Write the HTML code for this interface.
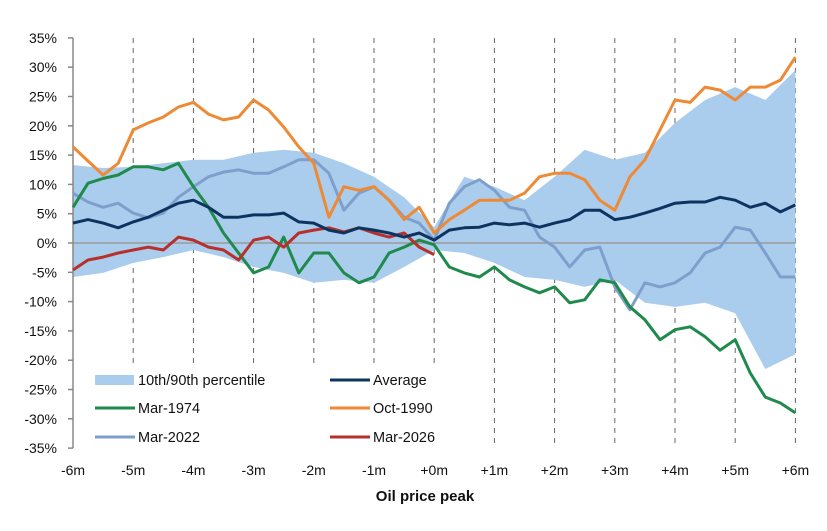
<!DOCTYPE html>
<html><head><meta charset="utf-8">
<style>
html,body{margin:0;padding:0;background:#fff;}
svg{display:block;font-family:"Liberation Sans",Arial,sans-serif;}
</style></head>
<body>
<svg id="chart" width="827" height="531" viewBox="0 0 827 531" xmlns="http://www.w3.org/2000/svg">
<g id="grid"></g>
<g id="band"></g>
<g id="axes"></g>
<g id="lines"></g>
<g id="legend"></g>
<text x="425" y="501" font-size="15" font-weight="bold" text-anchor="middle" fill="#111">Oil price peak</text>
</svg>
<script>
const xTickLabels = ["-6m","-5m","-4m","-3m","-2m","-1m","+0m","+1m","+2m","+3m","+4m","+5m","+6m"];
const yTicks = [35,30,25,20,15,10,5,0,-5,-10,-15,-20,-25,-30,-35];
// band sampled every 0.5 month from -6 to +6
const bandUpper = [13.3,12.8,13,13.6,14.2,14.2,15.4,15.9,15.4,13.6,11.3,7.8,2.7,11.3,9.6,7.3,11.3,15.9,14.2,15.4,20.5,24.4,26.6,24.4,29.5];
const bandLower = [-5.8,-5.1,-3.4,-2.4,-1.2,-2.4,-4.1,-5.1,-6.8,-6.3,-6.8,-4.1,-1.2,-1.7,-3.4,-5.8,-6.3,-7.5,-6.3,-10.2,-10.9,-10.2,-12,-21.5,-19];
// series sampled every 0.25 month from -6 to +6
const average = [3.4,4,3.4,2.6,3.6,4.4,5.6,6.8,7.3,6.1,4.4,4.4,4.8,4.8,5.1,3.6,3.4,2.2,1.7,2.6,2.2,1.7,1,1.7,0.5,2.2,2.6,2.7,3.4,3.1,3.4,2.7,3.4,4,5.6,5.6,4,4.4,5.1,5.9,6.8,7,7,7.8,7.3,6.1,6.8,5.3,6.5];
const mar1974 = [6.1,10.2,11,11.6,13,13,12.5,13.6,9.6,6.1,1.7,-1.7,-5.1,-4.1,1,-5.1,-1.7,-1.7,-5.1,-6.8,-5.8,-1.7,-0.7,0.5,-0.3,-4.1,-5.1,-5.8,-4.1,-6.3,-7.5,-8.5,-7.5,-10.2,-9.7,-6.3,-6.8,-10.9,-13.1,-16.5,-14.8,-14.3,-16,-18.3,-16.5,-22.2,-26.3,-27.3,-29];
const oct1990 = [16.4,14,11.6,13.6,19.3,20.5,21.5,23.2,24,22,21,21.5,24.4,22.7,19.8,16.4,13.6,4.4,9.6,9,9.6,7.3,4,6.1,1.7,4,5.6,7.3,7.3,7.3,8.5,11.3,11.9,11.9,10.8,7.3,5.6,11.3,14.2,19.3,24.4,24,26.6,26.1,24.4,26.6,26.6,27.8,31.7];
const mar2022 = [8.5,7,6.1,6.8,5.1,4.3,5.1,7.8,9.6,11.3,12.1,12.5,11.9,11.9,13,14.2,14.2,11.9,5.6,8.5,9.6,7.3,4.4,3.4,0.5,6.8,9.6,10.8,9,6.1,5.6,1,-0.7,-4.1,-1.2,-0.7,-7.5,-11.4,-6.8,-7.5,-6.8,-5.1,-1.7,-0.7,2.7,2.2,-1.7,-5.8,-5.8];
const mar2026 = [-4.6,-2.9,-2.4,-1.7,-1.2,-0.7,-1.2,1,0.5,-0.7,-1.2,-2.9,0.5,1,-0.7,1.7,2.2,2.6,1.9,2.6,1.7,1,1.7,-0.7,-2];

const NS="http://www.w3.org/2000/svg";
const X0=73, XM=60.2, Y0=243, YP=5.86;
const xs = m => X0 + (m+6)*XM;
const ys = v => Y0 - v*YP;
function mk(tag, parent, attrs){const e=document.createElementNS(NS,tag);for(const k in attrs)e.setAttribute(k,attrs[k]);parent.appendChild(e);return e;}
const grid=document.getElementById('grid'), axes=document.getElementById('axes'), band=document.getElementById('band'), lines=document.getElementById('lines'), legend=document.getElementById('legend');

xTickLabels.forEach((lab,i)=>{
  const x=xs(i-6);
  if(i>0){
    const g=mk('line',grid,{x1:x,x2:x,y1:38,y2:448,stroke:'#666','stroke-width':1,'stroke-dasharray':'5,5'});
    
    
  }
  const t=mk('text',axes,{x:x,y:475,'font-size':14,'text-anchor':'middle',fill:'#111'});
  t.textContent=lab;
  
  
});

const bpath=[];
bandUpper.forEach((v,i)=>bpath.push((i?'L':'M')+xs(-6+i*0.5).toFixed(1)+','+ys(v).toFixed(1)));
for(let i=bandLower.length-1;i>=0;i--) bpath.push('L'+xs(-6+i*0.5).toFixed(1)+','+ys(bandLower[i]).toFixed(1));
const bp=mk('path',band,{d:bpath.join('')+'Z',fill:'#aacdee'});



const za=mk('line',axes,{x1:X0,x2:xs(6),y1:ys(0),y2:ys(0),stroke:'#999','stroke-width':1.5});


const ya=mk('line',axes,{x1:X0,x2:X0,y1:ys(35),y2:ys(-35),stroke:'#888','stroke-width':1.5});


yTicks.forEach(v=>{
  const y=ys(v);
  mk('line',axes,{x1:X0-5,x2:X0,y1:y,y2:y,stroke:'#888','stroke-width':1.5});
  const t=mk('text',axes,{x:57,y:y+5,'font-size':14,'text-anchor':'end',fill:'#111'});
  t.textContent=v+'%';
  
  
});

function drawLine(data,step,color,name){
  const d=data.map((v,i)=>(i?'L':'M')+xs(-6+i*step).toFixed(1)+','+ys(v).toFixed(1)).join('');
  const p=mk('path',lines,{d:d,fill:'none',stroke:color,'stroke-width':3,'stroke-linejoin':'round'});
  
  
}
drawLine(mar2022,0.25,'#7e9fcb','line-mar-2022');
drawLine(mar1974,0.25,'#1f8a4c','line-mar-1974');
drawLine(oct1990,0.25,'#ee8a35','line-oct-1990');
drawLine(mar2026,0.25,'#b8302c','line-mar-2026');
drawLine(average,0.25,'#0d3461','line-average');

const lb=mk('rect',legend,{x:86,y:364,width:385,height:86,fill:'#fff'});


const entries=[
  ['10th/90th percentile','#aacdee',95,380,true],
  ['Average','#0d3461',330,380,false],
  ['Mar-1974','#1f8a4c',95,408,false],
  ['Oct-1990','#ee8a35',330,408,false],
  ['Mar-2022','#7e9fcb',95,437,false],
  ['Mar-2026','#b8302c',330,437,false]
];
entries.forEach(e=>{
  const g=mk('g',legend,{});
  
  
  if(e[4]) mk('rect',g,{x:e[2],y:e[3]-5,width:39,height:10,fill:e[1]});
  else mk('line',g,{x1:e[2],x2:e[2]+40,y1:e[3],y2:e[3],stroke:e[1],'stroke-width':3});
  const t=mk('text',g,{x:e[2]+43,y:e[3]+5,'font-size':14.5,fill:'#111'});
  t.textContent=e[0];
});
</script>
</body></html>
